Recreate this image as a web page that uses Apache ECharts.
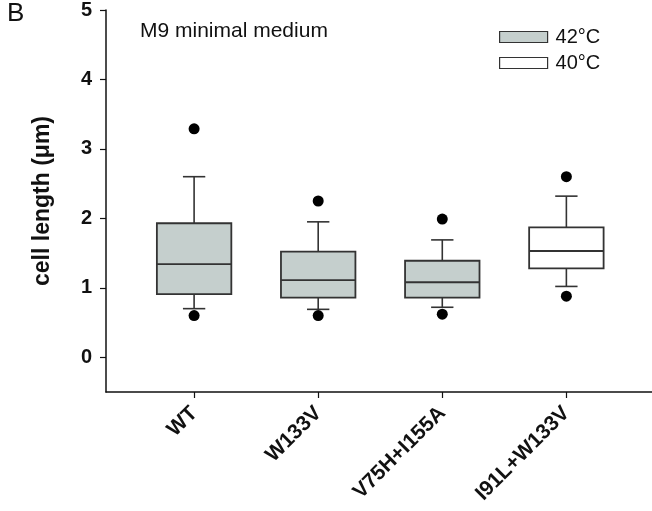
<!DOCTYPE html>
<html>
<head>
<meta charset="utf-8">
<script src="https://cdn.jsdelivr.net/npm/echarts@6/dist/echarts.min.js"></script>
<style>
  html, body { margin: 0; padding: 0; background: #fff; }
  #chart { width: 652px; height: 511px; }
</style>
</head>
<body>
<div id="chart"></div>
<script>
// Strains and the temperature each one was grown at
const categories = ['WT', 'W133V', 'V75H+I155A', 'I91L+W133V'];
const groups = ['42°C', '42°C', '42°C', '40°C'];
// [lower whisker, Q1, median, Q3, upper whisker] in µm
const boxStats = [
  [0.70, 0.91, 1.34, 1.93, 2.60],
  [0.69, 0.86, 1.11, 1.52, 1.95],
  [0.72, 0.86, 1.08, 1.39, 1.69],
  [1.02, 1.28, 1.53, 1.87, 2.32]
];
// 5th / 95th percentile points
const outlierLow = [0.60, 0.60, 0.62, 0.88];
const outlierHigh = [3.29, 2.25, 1.99, 2.60];
const yTicks = [0, 1, 2, 3, 4, 5];

const FONT = '"Liberation Sans", Arial, Helvetica, sans-serif';
const EDGE = '#333333';
const FILL = { '42°C': '#c5cfcd', '40°C': '#ffffff' };

function renderBox(params, api) {
  const x = api.value(0);
  const pLow = api.coord([x, api.value(1)]);
  const pQ1 = api.coord([x, api.value(2)]);
  const pMed = api.coord([x, api.value(3)]);
  const pQ3 = api.coord([x, api.value(4)]);
  const pHigh = api.coord([x, api.value(5)]);
  const halfW = api.size([0.6, 0])[0] / 2;
  const capHalf = api.size([0.18, 0])[0] / 2;
  const cx = pMed[0];
  const lineStyle = { stroke: EDGE, lineWidth: 1.6 };
  const fill = api.visual('color');
  return {
    type: 'group',
    children: [
      { type: 'line', shape: { x1: cx, y1: pQ3[1], x2: cx, y2: pHigh[1] }, style: lineStyle },
      { type: 'line', shape: { x1: cx - capHalf, y1: pHigh[1], x2: cx + capHalf, y2: pHigh[1] }, style: lineStyle },
      { type: 'line', shape: { x1: cx, y1: pQ1[1], x2: cx, y2: pLow[1] }, style: lineStyle },
      { type: 'line', shape: { x1: cx - capHalf, y1: pLow[1], x2: cx + capHalf, y2: pLow[1] }, style: lineStyle },
      { type: 'rect', shape: { x: cx - halfW, y: pQ3[1], width: halfW * 2, height: pQ1[1] - pQ3[1] },
        style: { fill: fill, stroke: EDGE, lineWidth: 1.8 } },
      { type: 'line', shape: { x1: cx - halfW, y1: pMed[1], x2: cx + halfW, y2: pMed[1] }, style: { stroke: EDGE, lineWidth: 1.8 } }
    ]
  };
}

function boxData(group) {
  const out = [];
  categories.forEach((c, i) => {
    if (groups[i] === group) out.push([i + 1].concat(boxStats[i]));
  });
  return out;
}

const outlierData = [];
categories.forEach((c, i) => {
  outlierData.push([i + 1, outlierLow[i]]);
  outlierData.push([i + 1, outlierHigh[i]]);
});

const chart = echarts.init(document.getElementById('chart'), null, { renderer: 'canvas' });
chart.setOption({
  animation: false,
  backgroundColor: '#ffffff',
  textStyle: { fontFamily: FONT },
  grid: { left: 106, right: 0, top: 9, bottom: 119 },
  legend: {
    orient: 'vertical',
    left: 494,
    top: 22,
    icon: 'rect',
    itemWidth: 48,
    itemHeight: 11,
    itemGap: 6,
    textStyle: { fontFamily: FONT, fontSize: 20, color: '#111', padding: [0, 0, 0, 3] },
    data: [
      { name: '42°C', itemStyle: { color: FILL['42°C'], borderColor: EDGE, borderWidth: 1.2 } },
      { name: '40°C', itemStyle: { color: FILL['40°C'], borderColor: EDGE, borderWidth: 1.2 } }
    ]
  },
  graphic: [
    { type: 'text', left: 7, top: 1, style: { text: 'B', font: '26px ' + FONT, fill: '#111' } },
    { type: 'text', left: 140, top: 21, style: { text: 'M9 minimal medium', font: '21px ' + FONT, fill: '#111' } }
  ],
  xAxis: {
    type: 'value',
    min: 0.29,
    max: 4.69,
    splitLine: { show: false },
    axisLine: { onZero: false, lineStyle: { color: '#111', width: 1.5 } },
    axisTick: { show: true, length: 6, customValues: [1, 2, 3, 4], lineStyle: { color: '#111', width: 1.2 } },
    axisLabel: {
      customValues: [1, 2, 3, 4],
      rotate: 45,
      margin: 18,
      fontSize: 21,
      fontWeight: 'bold',
      color: '#111',
      fontFamily: FONT,
      formatter: v => categories[Math.round(v) - 1] || ''
    }
  },
  yAxis: {
    type: 'value',
    min: -0.5,
    max: 5,
    name: 'cell length (μm)',
    nameLocation: 'middle',
    nameRotate: 90,
    nameGap: 52,
    nameTextStyle: { fontSize: 23, fontWeight: 'bold', color: '#111', fontFamily: FONT },
    splitLine: { show: false },
    axisLine: { onZero: false, lineStyle: { color: '#111', width: 1.5 } },
    axisTick: { show: true, length: 6, customValues: yTicks, lineStyle: { color: '#111', width: 1.2 } },
    axisLabel: {
      customValues: yTicks,
      margin: 14,
      fontSize: 20,
      fontWeight: 'bold',
      color: '#111',
      fontFamily: FONT
    }
  },
  series: [
    {
      name: '42°C',
      type: 'custom',
      renderItem: renderBox,
      itemStyle: { color: FILL['42°C'], borderColor: EDGE },
      encode: { x: 0, y: [1, 2, 3, 4, 5] },
      data: boxData('42°C')
    },
    {
      name: '40°C',
      type: 'custom',
      renderItem: renderBox,
      itemStyle: { color: FILL['40°C'], borderColor: EDGE },
      encode: { x: 0, y: [1, 2, 3, 4, 5] },
      data: boxData('40°C')
    },
    {
      name: 'outliers',
      type: 'scatter',
      symbol: 'circle',
      symbolSize: 11,
      itemStyle: { color: '#000', opacity: 1 },
      data: outlierData
    }
  ]
});
</script>
</body>
</html>
